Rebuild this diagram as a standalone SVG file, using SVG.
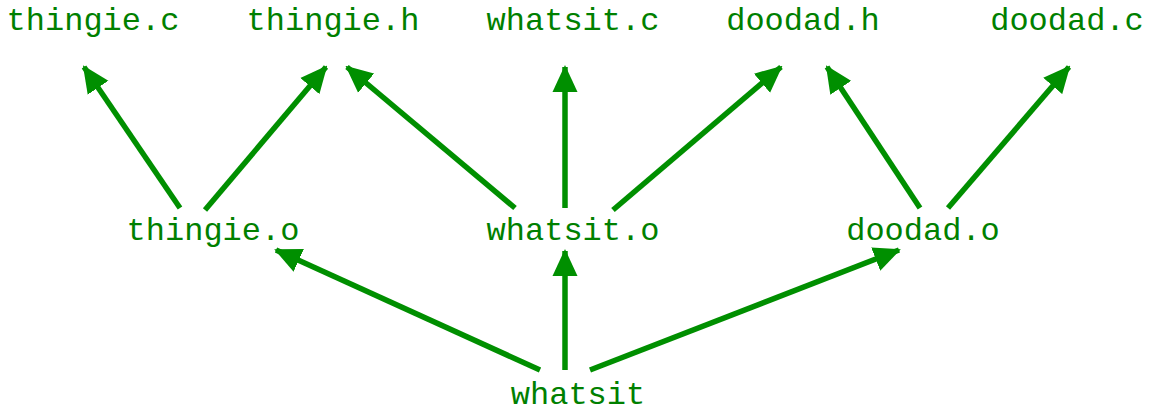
<svg xmlns="http://www.w3.org/2000/svg" width="1150" height="413" viewBox="0 0 1150 413">
<style>
text{font-family:"Liberation Mono","Courier New",monospace;font-size:32px;fill:#008000;text-anchor:middle}
.c line{stroke:#008f00;stroke-width:5.5;marker-end:url(#ah)}
</style>
<defs>
<marker id="ah" markerUnits="userSpaceOnUse" markerWidth="27" markerHeight="26" refX="25" refY="12.5" orient="auto" viewBox="0 0 27 25">
<path d="M0,0 L27,12.5 L0,25 z" fill="#008f00"/>
</marker>
</defs>
<rect width="1150" height="413" fill="#fff"/>
<g id="thingie_c"><text x="93" y="30">thingie.c</text></g>
<g id="thingie_h"><text x="333" y="30">thingie.h</text></g>
<g id="whatsit_c"><text x="573" y="30">whatsit.c</text></g>
<g id="doodad_h"><text x="803" y="30">doodad.h</text></g>
<g id="doodad_c"><text x="1067" y="30">doodad.c</text></g>
<g id="thingie_o"><text x="213" y="240">thingie.o</text></g>
<g id="whatsit_o"><text x="573" y="240">whatsit.o</text></g>
<g id="doodad_o"><text x="923" y="240">doodad.o</text></g>
<g id="whatsit"><text x="578" y="404">whatsit</text></g>
<g class="c" id="connectors">
<line x1="180" y1="208" x2="84" y2="67"/>
<line x1="205" y1="210" x2="326" y2="67"/>
<line x1="515" y1="208" x2="347" y2="67"/>
<line x1="565" y1="208" x2="565" y2="67"/>
<line x1="613" y1="210" x2="781" y2="67"/>
<line x1="920" y1="208" x2="827" y2="67"/>
<line x1="948" y1="208" x2="1069" y2="67"/>
<line x1="540" y1="370" x2="276" y2="250"/>
<line x1="565" y1="370" x2="565" y2="251"/>
<line x1="590" y1="370" x2="899" y2="250"/>
</g>
</svg>
